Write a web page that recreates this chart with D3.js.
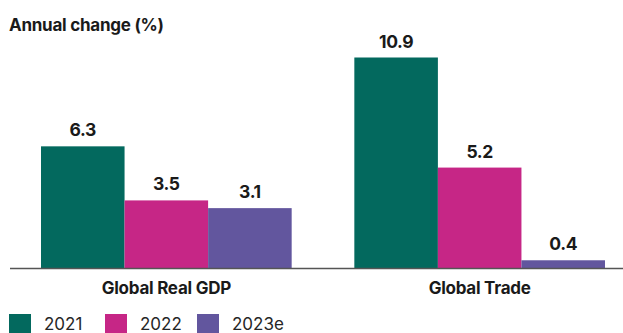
<!DOCTYPE html>
<html>
<head>
<meta charset="utf-8">
<script src="https://cdn.jsdelivr.net/npm/d3@7"></script>
<style>
  html, body { margin: 0; padding: 0; background: #fff; }
  svg { display: block; font-family: "Inter", "Liberation Sans", sans-serif; }
</style>
</head>
<body>
<svg id="chart" width="623" height="333"></svg>
<script>
// Annual change in global output and trade, by year
const categories = ["Global Real GDP", "Global Trade"];
const years = ["2021", "2022", "2023e"];
const values2021 = [6.3, 10.9];
const values2022 = [3.5, 5.2];
const values2023e = [3.1, 0.4];
const yearColors = ["#03695e", "#c62686", "#62569e"];
const titleText = "Annual change (%)";

const seriesValues = [values2021, values2022, values2023e];
const rows = categories.map((cat, i) => ({
  category: cat,
  bars: years.map((yr, j) => ({ year: yr, value: seriesValues[j][i] }))
}));

const svg = d3.select("#chart");
const baseY = 268;

const x0 = d3.scaleBand()
  .domain(categories)
  .range([41, 605])
  .paddingInner(0.2)
  .paddingOuter(0);

const x1 = d3.scaleBand()
  .domain(years)
  .range([0, x0.bandwidth()])
  .padding(0);

const y = d3.scaleLinear()
  .domain([0, 10.9])
  .range([baseY, 57.5]);

const color = d3.scaleOrdinal().domain(years).range(yearColors);

// title
svg.append("text")
  .attr("x", 9)
  .attr("y", 31)
  .attr("fill", "#1a1a1a")
  .attr("font-size", 17)
  .attr("font-weight", 700)
  .attr("letter-spacing", "-0.25")
  .text(titleText);

// bars
const groups = svg.selectAll("g.group")
  .data(rows)
  .join("g")
  .attr("class", "group")
  .attr("transform", d => `translate(${x0(d.category)},0)`);

groups.selectAll("rect")
  .data(d => d.bars)
  .join("rect")
  .attr("x", d => x1(d.year))
  .attr("y", d => y(d.value))
  .attr("width", x1.bandwidth())
  .attr("height", d => baseY - y(d.value))
  .attr("fill", d => color(d.year));

// value labels
groups.selectAll("text.value")
  .data(d => d.bars)
  .join("text")
  .attr("class", "value")
  .attr("x", d => x1(d.year) + x1.bandwidth() / 2)
  .attr("y", d => y(d.value) - 10)
  .attr("text-anchor", "middle")
  .attr("fill", "#1a1a1a")
  .attr("font-size", 17.5)
  .attr("font-weight", 700)
  .attr("letter-spacing", "-0.4")
  .text(d => d.value.toFixed(1));

// baseline axis with category labels
const axis = d3.axisBottom(x0).tickSize(0).tickPadding(0);
const axisG = svg.append("g")
  .attr("transform", `translate(0,${baseY})`)
  .call(axis);
axisG.select(".domain").remove();
axisG.append("line")
  .attr("x1", 10)
  .attr("x2", 623)
  .attr("y1", 0.5)
  .attr("y2", 0.5)
  .attr("stroke", "#555")
  .attr("stroke-width", 1.6);
axisG.selectAll(".tick text")
  .attr("y", 25.5)
  .attr("dy", 0)
  .attr("fill", "#1a1a1a")
  .attr("font-size", 17)
  .attr("font-weight", 700)
  .attr("letter-spacing", "-0.25")
  .attr("font-family", "Inter, sans-serif");

// legend
const legendX = [9, 105, 197];
const legend = svg.selectAll("g.legend")
  .data(years)
  .join("g")
  .attr("class", "legend")
  .attr("transform", (d, i) => `translate(${legendX[i]},314)`);

legend.append("rect")
  .attr("width", 22)
  .attr("height", 19)
  .attr("fill", d => color(d));

legend.append("text")
  .attr("x", 35)
  .attr("y", 16)
  .attr("fill", "#262626")
  .attr("font-size", 17)
  .attr("font-weight", 400)
  .text(d => d);
</script>
</body>
</html>
